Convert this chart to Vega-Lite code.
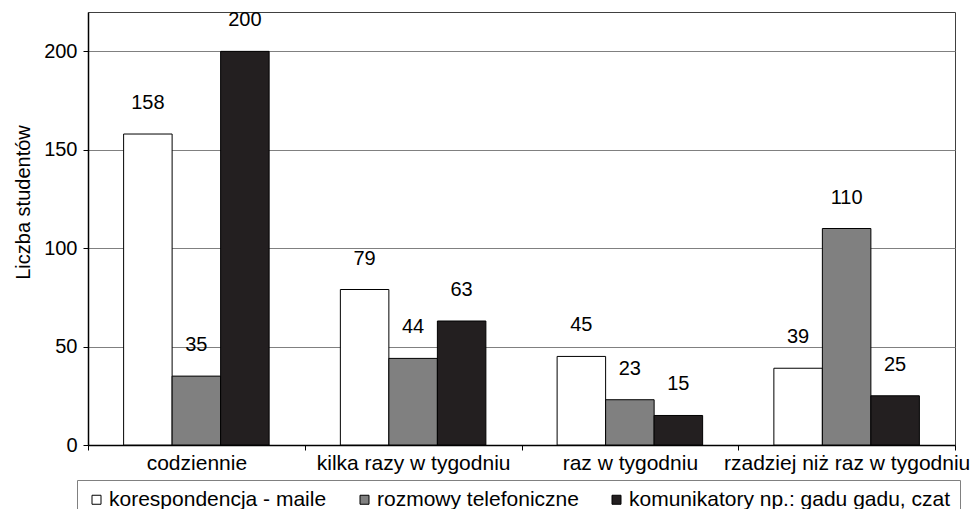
{
  "$schema": "https://vega.github.io/schema/vega-lite/v6.json",
  "autosize": "none",
  "width": 867,
  "height": 433,
  "padding": {"left": 88, "top": 12, "right": 18, "bottom": 64},
  "background": "white",
  "config": {
    "font": "Liberation Sans",
    "view": {"stroke": "#404040", "strokeWidth": 1},
    "axis": {"labelColor": "black", "titleColor": "black", "domainColor": "black", "tickColor": "black", "labelFont": "Liberation Sans", "titleFont": "Liberation Sans"},
    "legend": {"labelFont": "Liberation Sans"}
  },
  "data": {
    "values": [
      {"kategoria": "codziennie", "forma": "korespondencja - maile", "liczba": 158},
      {"kategoria": "codziennie", "forma": "rozmowy telefoniczne", "liczba": 35},
      {"kategoria": "codziennie", "forma": "komunikatory np.: gadu gadu, czat", "liczba": 200},
      {"kategoria": "kilka razy w tygodniu", "forma": "korespondencja - maile", "liczba": 79},
      {"kategoria": "kilka razy w tygodniu", "forma": "rozmowy telefoniczne", "liczba": 44},
      {"kategoria": "kilka razy w tygodniu", "forma": "komunikatory np.: gadu gadu, czat", "liczba": 63},
      {"kategoria": "raz w tygodniu", "forma": "korespondencja - maile", "liczba": 45},
      {"kategoria": "raz w tygodniu", "forma": "rozmowy telefoniczne", "liczba": 23},
      {"kategoria": "raz w tygodniu", "forma": "komunikatory np.: gadu gadu, czat", "liczba": 15},
      {"kategoria": "rzadziej niż raz w tygodniu", "forma": "korespondencja - maile", "liczba": 39},
      {"kategoria": "rzadziej niż raz w tygodniu", "forma": "rozmowy telefoniczne", "liczba": 110},
      {"kategoria": "rzadziej niż raz w tygodniu", "forma": "komunikatory np.: gadu gadu, czat", "liczba": 25}
    ]
  },
  "encoding": {
    "x": {
      "field": "kategoria",
      "type": "nominal",
      "sort": ["codziennie", "kilka razy w tygodniu", "raz w tygodniu", "rzadziej niż raz w tygodniu"],
      "scale": {"paddingInner": 0, "paddingOuter": 0},
      "axis": {"title": null, "labelAngle": 0, "labelFontSize": 21, "tickBand": "extent", "tickSize": 5, "labelPadding": 2, "domainWidth": 1.5, "labelLimit": 400, "labelOverlap": false, "labelBound": false}
    },
    "xOffset": {
      "field": "forma",
      "type": "nominal",
      "sort": ["korespondencja - maile", "rozmowy telefoniczne", "komunikatory np.: gadu gadu, czat"],
      "scale": {"paddingInner": 0, "paddingOuter": 0.7345}
    },
    "y": {
      "field": "liczba",
      "type": "quantitative",
      "scale": {"domain": [0, 220], "nice": false},
      "axis": {"values": [0, 50, 100, 150, 200], "title": "Liczba studentów", "titleFontSize": 20, "titleFontWeight": "normal", "titleY": 190, "labelFontSize": 20, "tickSize": 5, "labelPadding": 6, "gridColor": "#808080", "gridOpacity": 1, "titlePadding": 10, "domainWidth": 1.5}
    }
  },
  "layer": [
    {
      "mark": {"type": "bar", "stroke": "black", "strokeWidth": 1},
      "encoding": {
        "color": {
          "field": "forma",
          "type": "nominal",
          "sort": ["korespondencja - maile", "rozmowy telefoniczne", "komunikatory np.: gadu gadu, czat"],
          "scale": {"domain": ["korespondencja - maile", "rozmowy telefoniczne", "komunikatory np.: gadu gadu, czat"], "range": ["#ffffff", "#808080", "#231f20"]},
          "legend": {
            "title": null,
            "orient": "none",
            "legendX": -11,
            "legendY": 468,
            "direction": "horizontal",
            "strokeColor": "#808080",
            "padding": 9,
            "symbolType": "square",
            "symbolSize": 81,
            "symbolStrokeColor": "black",
            "symbolStrokeWidth": 1,
            "labelFontSize": 21,
            "labelColor": "black",
            "labelOffset": 2,
            "columnPadding": 27,
            "labelLimit": 400
          }
        }
      }
    },
    {
      "mark": {"type": "text", "fontSize": 20, "baseline": "alphabetic", "dy": -25, "color": "black"},
      "encoding": {"text": {"field": "liczba", "type": "quantitative"}}
    }
  ]
}
